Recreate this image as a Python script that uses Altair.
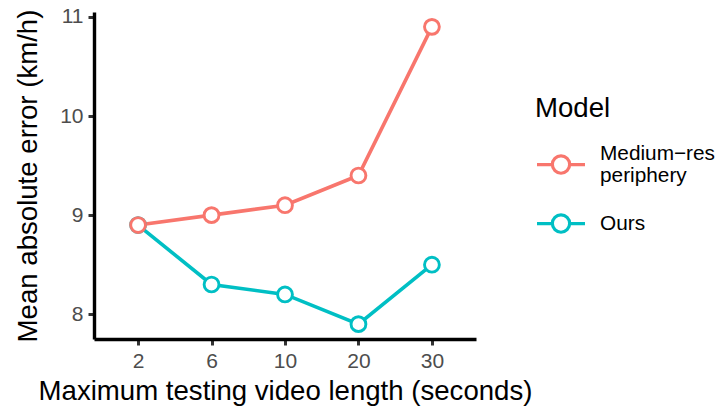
import altair as alt
import pandas as pd

# Mean absolute error by maximum testing video length, per model
lengths = ["2", "6", "10", "20", "30"]
medium_res = [8.9, 9.0, 9.1, 9.4, 10.9]
ours = [8.9, 8.3, 8.2, 7.9, 8.5]
models = ["Medium−res periphery", "Ours"]
colors = ["#F8766D", "#00BFC4"]

rows = []
for name, vals in [(models[1], ours), (models[0], medium_res)]:
    for L, v in zip(lengths, vals):
        rows.append({"length": L, "mae": v, "model": name})
df = pd.DataFrame(rows)

FONT = "Liberation Sans"

x = alt.X(
    "length:O",
    sort=lengths,
    scale=alt.Scale(type="point", padding=0.6),
    axis=alt.Axis(
        title="Maximum testing video length (seconds)",
        labelAngle=0,
        titleY=60,
        titleBaseline="alphabetic",
    ),
)
y = alt.Y(
    "mae:Q",
    scale=alt.Scale(domain=[7.75, 11.05], nice=False, zero=False),
    axis=alt.Axis(
        title="Mean absolute error (km/h)",
        values=[8, 9, 10, 11],
        titleX=-58,
        titleBaseline="alphabetic",
    ),
)

# legend glyph: a line segment passing through an open circle
r = 0.36
legend_path = (
    f"M-1,0L-{r},0M{r},0L1,0"
    f"M{r},0A{r},{r},0,1,1,-{r},0A{r},{r},0,1,1,{r},0Z"
)

two_line = "datum.value == 'Medium−res periphery'"

color = alt.Color(
    "model:N",
    scale=alt.Scale(domain=models, range=colors),
    legend=alt.Legend(
        title="Model",
        orient="none",
        legendX=441,
        legendY=83,
        symbolType=legend_path,
        symbolSize=2304,
        symbolStrokeWidth=3.2,
        symbolFillColor="white",
        symbolOpacity=1,
        labelOffset=13,
        titlePadding=16,
        rowPadding=11,
        labelBaseline=alt.ExprRef(f"{two_line} ? 'line-bottom' : 'middle'"),
        labelExpr="datum.label == 'Medium−res periphery' ? ['Medium−res', 'periphery'] : datum.label",
    ),
)

lines = alt.Chart(df).mark_line(strokeWidth=3.6).encode(x=x, y=y, color=color, detail="model:N")
points = alt.Chart(df).mark_point(
    filled=False, fill="white", size=220, strokeWidth=2.9, opacity=1
).encode(x=x, y=y, color=color)

chart = (
    alt.layer(lines, points)
    .properties(
        width=382,
        height=327,
        autosize=alt.AutoSizeParams(type="none"),
        padding={"left": 94, "top": 12, "right": 241, "bottom": 67},
        background="white",
    )
    .configure_view(stroke=None)
    .configure_axis(
        grid=False,
        domainColor="black",
        domainWidth=3.4,
        tickColor="#333333",
        tickWidth=3,
        tickSize=6,
        labelFont=FONT,
        labelFontSize=21,
        labelColor="#4D4D4D",
        labelPadding=5,
        titleFont=FONT,
        titleFontSize=27.6,
        titleFontWeight="normal",
        titleColor="black",
    )
    .configure_legend(
        padding=0,
        titleFont=FONT,
        titleFontSize=27.6,
        titleFontWeight="normal",
        titleColor="black",
        labelFont=FONT,
        labelFontSize=20.8,
        labelColor="black",
        labelLimit=300,
    )
)

chart.save("out.html", embed_options={"renderer": "svg", "actions": False})
